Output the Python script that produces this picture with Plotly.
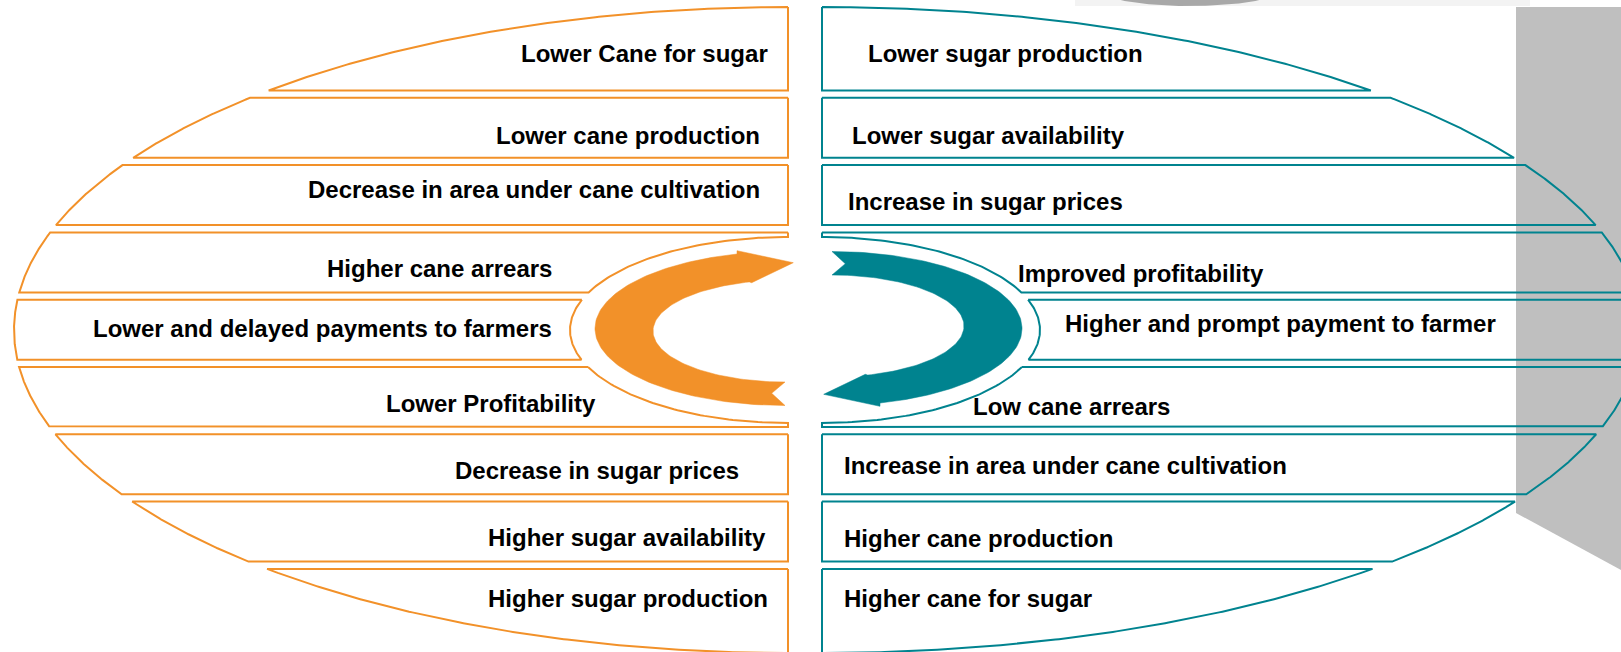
import numpy as np
import plotly.graph_objects as go

# ---------------- data ----------------
left_labels = [
    "Lower Cane for sugar",
    "Lower cane production",
    "Decrease in area under cane cultivation",
    "Higher cane arrears",
    "Lower and delayed payments to farmers",
    "Lower Profitability",
    "Decrease in sugar prices",
    "Higher sugar availability",
    "Higher sugar production",
]
right_labels = [
    "Lower sugar production",
    "Lower sugar availability",
    "Increase in sugar prices",
    "Improved profitability",
    "Higher and prompt payment to farmer",
    "Low cane arrears",
    "Increase in area under cane cultivation",
    "Higher cane production",
    "Higher cane for sugar",
]

# ---------------- layout / style ----------------
left_text_x = [770, 762, 762, 554, 554, 598, 741, 768, 770]
left_text_y = [53, 135, 189, 268, 328, 403, 470, 537, 598]
right_text_x = [866, 850, 846, 1016, 1063, 971, 842, 842, 842]
right_text_y = [53, 135, 201, 273, 323, 406, 465, 538, 598]

ORANGE = "#F29129"
TEAL = "#00838F"
GREY = "#BFBFBF"
W, H = 1621, 652

BAND_TOP0, PITCH, BAND_H = 30.5, 67.3, 60.0
CY, B_OUT = 330.0, 323.0
IA, IB, ICY = 218.0, 93.0, 330.0

fig = go.Figure()

# grey panel at right
fig.add_trace(go.Scatter(x=[1516, W, W, 1516, 1516], y=[7, 7, 570, 513, 7], mode="lines",
                         fill="toself", fillcolor=GREY, line=dict(width=0, color=GREY),
                         hoverinfo="skip", showlegend=False))
# faint top strip and grey blob
fig.add_trace(go.Scatter(x=[1075, 1530, 1530, 1075, 1075], y=[0, 0, 6, 6, 0], mode="lines",
                         fill="toself", fillcolor="#F3F3F3", line=dict(width=0),
                         hoverinfo="skip", showlegend=False))
th = np.linspace(0, np.pi, 60)
fig.add_trace(go.Scatter(x=1190 + 85 * np.cos(th), y=-8 + 14 * np.sin(th), mode="lines",
                         fill="toself", fillcolor="#A8A8A8", line=dict(width=0),
                         hoverinfo="skip", showlegend=False))


def band_polygon(i, n, cx, a, s):
    t = BAND_TOP0 + PITCH * i
    b = t + BAND_H
    if i == 0:
        t = CY - B_OUT + 0.001
    if i == n - 1:
        b = CY + B_OUT - 0.001
    xs, ys = [], []
    lo, hi = ICY - IB, ICY + IB
    # inner (straight side / cut-out side), top -> bottom
    if b <= lo or t >= hi:
        xs += [cx, cx]
        ys += [t, b]
    else:
        if t < lo:
            xs.append(cx); ys.append(t)
        y0, y1 = max(t, lo), min(b, hi)
        tt = np.linspace(np.arccos((ICY - y0) / IB), np.arccos((ICY - y1) / IB), 60)
        xs += list(cx + s * IA * np.sin(tt)); ys += list(ICY - IB * np.cos(tt))
        if b > hi:
            xs.append(cx); ys.append(b)
    # outer ellipse, bottom -> top
    to = np.linspace(np.arccos((CY - b) / B_OUT), np.arccos((CY - t) / B_OUT), 160)
    xs += list(cx + s * a * np.sin(to)); ys += list(CY - B_OUT * np.cos(to))
    xs.append(xs[0]); ys.append(ys[0])
    return xs, ys


n = len(left_labels)
for i in range(n):
    x, y = band_polygon(i, n, 788.0, 774.0, -1)
    fig.add_trace(go.Scatter(x=x, y=y, mode="lines", line=dict(color=ORANGE, width=2),
                             hoverinfo="skip", showlegend=False))
for i in range(len(right_labels)):
    x, y = band_polygon(i, n, 822.0, 818.0, 1)
    fig.add_trace(go.Scatter(x=x, y=y, mode="lines", line=dict(color=TEAL, width=2),
                             hoverinfo="skip", showlegend=False))

# ---------------- circular arrows ----------------
OCX, OCY, OA, OB = 785.0, 328.5, 190.0, 77.0
ICX2, ICY2, IA2, IB2 = 785.0, 331.0, 132.0, 51.0


def arrow_shape():
    xs, ys = [], []
    ph_o = np.arcsin((OCX - 737.0) / OA)
    p = np.linspace(np.pi, ph_o, 120)
    xs += list(OCX - OA * np.sin(p)); ys += list(OCY - OB * np.cos(p))
    # head: outer barb, tip, inner barb
    xs += [737.0, 793.3, 751.7]; ys += [250.7, 262.7, 282.7]
    ph_i = np.arcsin((ICX2 - 749.3) / IA2)
    p = np.linspace(ph_i, np.pi, 100)
    xs += list(ICX2 - IA2 * np.sin(p)); ys += list(ICY2 - IB2 * np.cos(p))
    # notched tail
    xs += [771.7, xs[0]]; ys += [393.3, ys[0]]
    return np.array(xs), np.array(ys)


ax, ay = arrow_shape()
fig.add_trace(go.Scatter(x=ax, y=ay, mode="lines", fill="toself", fillcolor=ORANGE,
                         line=dict(color=ORANGE, width=0.5), hoverinfo="skip", showlegend=False))
# teal arrow is the orange one turned half a circle around the diagram centre
RX, RY = 808.5, 328.5
fig.add_trace(go.Scatter(x=2 * RX - ax, y=2 * RY - ay, mode="lines", fill="toself", fillcolor=TEAL,
                         line=dict(color=TEAL, width=0.5), hoverinfo="skip", showlegend=False))

# ---------------- labels ----------------
FONT = dict(family="Liberation Sans, Arial, sans-serif", size=24, color="#000000", weight="bold")
for lab, x, y in zip(left_labels, left_text_x, left_text_y):
    fig.add_annotation(x=x, y=y, text=lab, showarrow=False, xanchor="right", yanchor="middle",
                       font=FONT, xref="x", yref="y")
for lab, x, y in zip(right_labels, right_text_x, right_text_y):
    fig.add_annotation(x=x, y=y, text=lab, showarrow=False, xanchor="left", yanchor="middle",
                       font=FONT, xref="x", yref="y")

fig.update_layout(
    width=W, height=H, margin=dict(l=0, r=0, t=0, b=0),
    paper_bgcolor="white", plot_bgcolor="white",
    xaxis=dict(range=[0, W], visible=False, fixedrange=True),
    yaxis=dict(range=[H, 0], visible=False, fixedrange=True),
    showlegend=False,
)
fig.write_html("out.html", config={"displayModeBar": False},
               post_script="document.body.style.margin='0';document.body.style.overflow='hidden';")
